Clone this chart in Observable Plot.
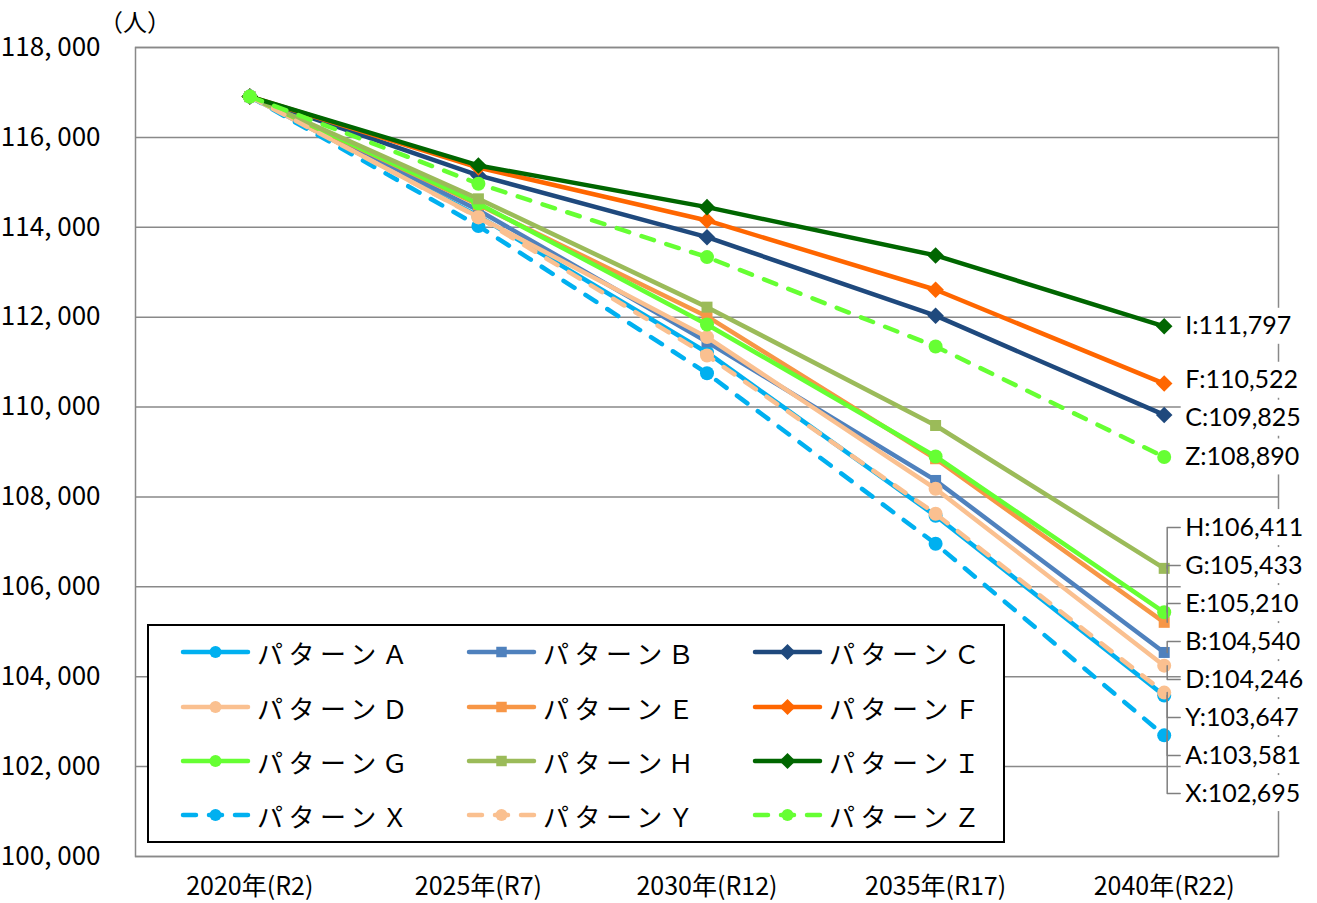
<!DOCTYPE html>
<html><head><meta charset="utf-8">
<script src="https://cdn.jsdelivr.net/npm/d3@7"></script>
<script src="https://cdn.jsdelivr.net/npm/@observablehq/plot@0.6"></script>
<style>
body{margin:0;background:#fff;}
#wrap{position:relative;width:1317px;height:903px;background:#fff;}
#unit{position:absolute;left:99px;top:9px;font-size:24px;line-height:1;font-family:"Noto Sans CJK JP";color:#000;}
#legend{position:absolute;left:147px;top:624px;}
</style></head><body><div id="wrap"><div id="unit">（人）</div><div id="legend"></div></div>
<script>
// ---- data ----
const years = [2020, 2025, 2030, 2035, 2040];
const xLabels = ["2020年(R2)", "2025年(R7)", "2030年(R12)", "2035年(R17)", "2040年(R22)"];
const yTicks = [100000, 102000, 104000, 106000, 108000, 110000, 112000, 114000, 116000, 118000];
const seriesKeys = ["A", "B", "C", "D", "E", "F", "G", "H", "I", "X", "Y", "Z"];
const legendNames = ["パターンＡ", "パターンＢ", "パターンＣ", "パターンＤ", "パターンＥ", "パターンＦ", "パターンＧ", "パターンＨ", "パターンＩ", "パターンＸ", "パターンＹ", "パターンＺ"];
const popA = [116908, 114250, 111215, 107580, 103581];
const popB = [116908, 114380, 111450, 108367, 104540];
const popC = [116908, 115154, 113780, 112033, 109825];
const popD = [116908, 114230, 111556, 108182, 104246];
const popE = [116908, 114500, 112016, 108850, 105210];
const popF = [116908, 115330, 114152, 112610, 110522];
const popG = [116908, 114530, 111838, 108901, 105433];
const popH = [116908, 114633, 112223, 109590, 106411];
const popI = [116908, 115376, 114448, 113374, 111797];
const popX = [116908, 114030, 110752, 106958, 102695];
const popY = [116908, 114220, 111148, 107626, 103647];
const popZ = [116908, 114969, 113336, 111348, 108890];

// ---- styles ----
const seriesValues = [popA, popB, popC, popD, popE, popF, popG, popH, popI, popX, popY, popZ];
const colors = ["#00B0F0", "#4F81BD", "#1F497D", "#FAC090", "#F79646", "#FF6600", "#66FF33", "#9BBB59", "#006600", "#00B0F0", "#FAC090", "#66FF33"];
const shapes = ["circle", "square", "diamond", "circle", "square", "diamond", "circle", "square", "diamond", "circle", "circle", "circle"];
const dashed = [false, false, false, false, false, false, false, false, false, true, true, true];

const diamondSym = {draw(ctx, size){ const h = Math.sqrt(size / 2); ctx.moveTo(0, -h); ctx.lineTo(h, 0); ctx.lineTo(0, h); ctx.lineTo(-h, 0); ctx.closePath(); }};
const squareSym = {draw(ctx, size){ const s = Math.sqrt(size) / 2; ctx.moveTo(-s, -s); ctx.lineTo(s, -s); ctx.lineTo(s, s); ctx.lineTo(-s, s); ctx.closePath(); }};
const circleSym = {draw(ctx, size){ const r = Math.sqrt(size / Math.PI); ctx.moveTo(r, 0); ctx.arc(0, 0, r, 0, 2 * Math.PI); }};
const symObj = {circle: circleSym, square: squareSym, diamond: diamondSym};
const symR = {circle: 7, square: 6.2, diamond: 6.6};

const W = 1317, H = 903, mL = 135, mR = 39, mT = 47, mB = 47;
const step = years[1] - years[0];
const xDomain = [years[0] - step / 2, years[years.length - 1] + step / 2];
const yDomain = [yTicks[0], yTicks[yTicks.length - 1]];
const xs = Plot.scale({x: {domain: xDomain, range: [mL, W - mR]}});
const ys = Plot.scale({y: {domain: yDomain, range: [H - mB, mT]}});

const series = seriesKeys.map((k, i) => ({
  key: k, name: legendNames[i], color: colors[i], shape: shapes[i], dashed: dashed[i],
  rows: years.map((y, j) => ({year: y, value: seriesValues[i][j]}))
}));

// ---- end labels with simple dodge ----
const lastYear = years[years.length - 1];
const lab = series.map(s => ({key: s.key, value: s.rows[s.rows.length - 1].value, year: lastYear}));
lab.forEach(d => d.py = ys.apply(d.value));
lab.sort((a, b) => a.py - b.py);
const sp = 38;
let clusters = [];
for (const d of lab) {
  clusters.push({items: [d], sum: d.py});
  while (clusters.length > 1) {
    const c = clusters[clusters.length - 1], p = clusters[clusters.length - 2];
    const pTop = p.sum / p.items.length - (p.items.length - 1) * sp / 2;
    const pBot = pTop + (p.items.length - 1) * sp;
    const cTop = c.sum / c.items.length - (c.items.length - 1) * sp / 2;
    if (cTop < pBot + sp) {
      p.items = p.items.concat(c.items); p.sum += c.sum; clusters.pop();
    } else break;
  }
}
for (const c of clusters) {
  const top = c.sum / c.items.length - (c.items.length - 1) * sp / 2 + (c.items.length > 2 ? 5 : 0);
  c.items.forEach((d, i) => {
    d.ly = top + i * sp;
    d.labelValue = ys.invert(d.ly);
    d.boxTop = ys.invert(d.ly - 18);
    d.boxBottom = ys.invert(d.ly + 18);
  });
}
const x0 = xs.apply(lastYear);
const boxX1 = xs.invert(x0 + 17), boxX2 = xs.invert(x0 + 141);
const leaders = lab.filter(d => Math.abs(d.ly - d.py) > 4).map(d => [
  {year: xs.invert(x0 + 3), value: d.value, key: d.key},
  {year: xs.invert(x0 + 3), value: d.labelValue, key: d.key},
  {year: xs.invert(x0 + 16), value: d.labelValue, key: d.key}
]);
const fmt = d3.format(",");

const marks = [
  Plot.gridY(yTicks, {stroke: "#898989", strokeOpacity: 1, strokeWidth: 1.5}),
  Plot.frame({stroke: "#898989", strokeWidth: 1.5}),
  Plot.axisY({ticks: yTicks, tickFormat: v => fmt(v).replace(",", ", "), tickSize: 0, tickPadding: 35, fontSize: 26, fontFamily: "Noto Sans CJK JP", fill: "#000", label: null}),
  Plot.axisX({ticks: years, tickFormat: v => xLabels[years.indexOf(v)], tickSize: 0, tickPadding: 21, fontSize: 25, fontFamily: "Noto Sans CJK JP", fill: "#000", label: null})
];
for (const s of series) {
  marks.push(Plot.line(s.rows, {x: "year", y: "value", stroke: s.color, strokeWidth: 4.5,
    strokeDasharray: s.dashed ? "13,13" : null, strokeLinecap: "round", strokeLinejoin: "round"}));
  marks.push(Plot.dot(s.rows, {x: "year", y: "value", symbol: symObj[s.shape], r: symR[s.shape], fill: s.color, stroke: "none"}));
}
marks.push(Plot.rect(lab, {x1: () => boxX1, x2: () => boxX2, y1: "boxTop", y2: "boxBottom", fill: "white"}));
for (const l of leaders) marks.push(Plot.line(l, {x: "year", y: "value", stroke: "#7f7f7f", strokeWidth: 1.5}));
marks.push(Plot.text(lab, {x: "year", y: "labelValue", text: d => `${d.key}:${fmt(d.value)}`, textAnchor: "start", dx: 21,
  fontSize: 25, fontFamily: "Lato", fill: "#000"}));

const chart = Plot.plot({
  width: W, height: H, marginLeft: mL, marginRight: mR, marginTop: mT, marginBottom: mB,
  x: {domain: xDomain}, y: {domain: yDomain},
  style: {background: "white", overflow: "visible"},
  marks
});
document.getElementById("wrap").prepend(chart);

// ---- legend ----
const LW = 858, LH = 219;
const lsvg = d3.select("#legend").append("svg").attr("width", LW).attr("height", LH);
lsvg.append("rect").attr("x", 1).attr("y", 1).attr("width", LW - 2).attr("height", LH - 2).attr("fill", "white").attr("stroke", "#000").attr("stroke-width", 2);
const colX = [34, 320, 606], rowY = [28, 83, 137, 191];
series.forEach((s, i) => {
  const g = lsvg.append("g").attr("transform", `translate(${colX[i % 3]},${rowY[Math.floor(i / 3)]})`);
  g.append("line").attr("x1", 2).attr("x2", 67).attr("y1", 0).attr("y2", 0)
    .attr("stroke", s.color).attr("stroke-width", 4.5).attr("stroke-linecap", "round")
    .attr("stroke-dasharray", s.dashed ? "13,13" : null);
  const sz = {circle: Math.PI * 36, square: 110, diamond: 130}[s.shape];
  g.append("path").attr("transform", "translate(34.5,0)").attr("d", d3.symbol(symObj[s.shape], sz)()).attr("fill", s.color);
  g.append("text").attr("x", 76).attr("y", 0).attr("dominant-baseline", "central")
    .attr("font-family", "Noto Sans CJK JP").attr("font-size", 26).attr("letter-spacing", "5.5px").attr("fill", "#000").text(s.name);
});
</script></body></html>
